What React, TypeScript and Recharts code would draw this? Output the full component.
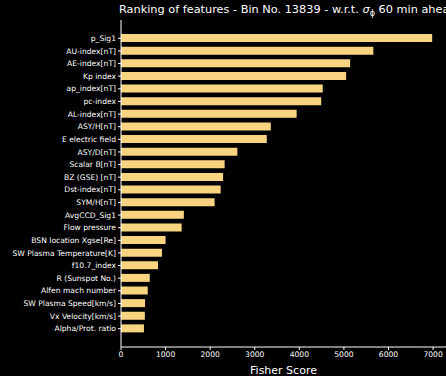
import React from "react"
import { BarChart, Bar, XAxis, YAxis, Label } from "recharts"

const FEATURES = [
  "p_Sig1",
  "AU-index[nT]",
  "AE-index[nT]",
  "Kp index",
  "ap_index[nT]",
  "pc-index",
  "AL-index[nT]",
  "ASY/H[nT]",
  "E electric field",
  "ASY/D[nT]",
  "Scalar B[nT]",
  "BZ (GSE) [nT]",
  "Dst-index[nT]",
  "SYM/H[nT]",
  "AvgCCD_Sig1",
  "Flow pressure",
  "BSN location Xgse[Re]",
  "SW Plasma Temperature[K]",
  "f10.7_index",
  "R (Sunspot No.)",
  "Alfen mach number",
  "SW Plasma Speed[km/s]",
  "Vx Velocity[km/s]",
  "Alpha/Prot. ratio",
]

const FISHER_SCORES = [
  6980, 5660, 5140, 5050, 4525, 4490, 3940, 3360, 3270, 2610, 2325, 2290,
  2235, 2100, 1410, 1360, 1000, 920, 830, 645, 600, 540, 535, 515,
]

const SCORE_TICKS = [0, 1000, 2000, 3000, 4000, 5000, 6000, 7000]

const FONT = "'DejaVu Sans', sans-serif"
const BAR_COLOR = "#f8d480"

const data = FEATURES.map((name, i) => ({ name, score: FISHER_SCORES[i] }))

// plain svg text so long feature names stay on one line
function FeatureTick({ x, y, payload }: { x?: number; y?: number; payload?: { value: string } }) {
  return (
    <text
      x={x}
      y={y}
      dy="0.35em"
      textAnchor="end"
      fill="#fff"
      fontSize={7.6}
      fontFamily={FONT}
    >
      {payload?.value}
    </text>
  )
}

export default function App() {
  return (
    <div
      style={{
        position: "absolute",
        left: 0,
        top: 0,
        width: 446,
        height: 376,
        overflow: "hidden",
        background: "#000",
        fontFamily: FONT,
      }}
    >
      <div
        style={{
          position: "absolute",
          left: 119,
          top: 3,
          whiteSpace: "nowrap",
          color: "#fff",
          fontSize: 11.3,
          lineHeight: "14px",
        }}
      >
        Ranking of features - Bin No. 13839 - w.r.t.{" "}
        <i>σ</i>
        <sub style={{ fontSize: 8 }}>ϕ</sub> 60 min ahead
      </div>
      <BarChart
        layout="vertical"
        width={446}
        height={376}
        data={data}
        margin={{ top: 20, right: 0, bottom: 0, left: 0 }}
        barSize={8}
      >
        <XAxis
          type="number"
          domain={[0, 7290]}
          ticks={SCORE_TICKS}
          allowDataOverflow
          height={29}
          stroke="#fff"
          tickSize={3}
          tick={{ fill: "#fff", fontSize: 7.6, fontFamily: FONT }}
        >
          <Label
            value="Fisher Score"
            position="insideBottom"
            offset={2}
            fill="#fff"
            fontSize={11}
            fontFamily={FONT}
          />
        </XAxis>
        <YAxis
          type="category"
          dataKey="name"
          width={121}
          interval={0}
          padding={{ top: 12, bottom: 12 }}
          stroke="#fff"
          tickSize={3}
          tick={<FeatureTick />}
        />
        <Bar dataKey="score" fill={BAR_COLOR} isAnimationActive={false} />
      </BarChart>
    </div>
  )
}
